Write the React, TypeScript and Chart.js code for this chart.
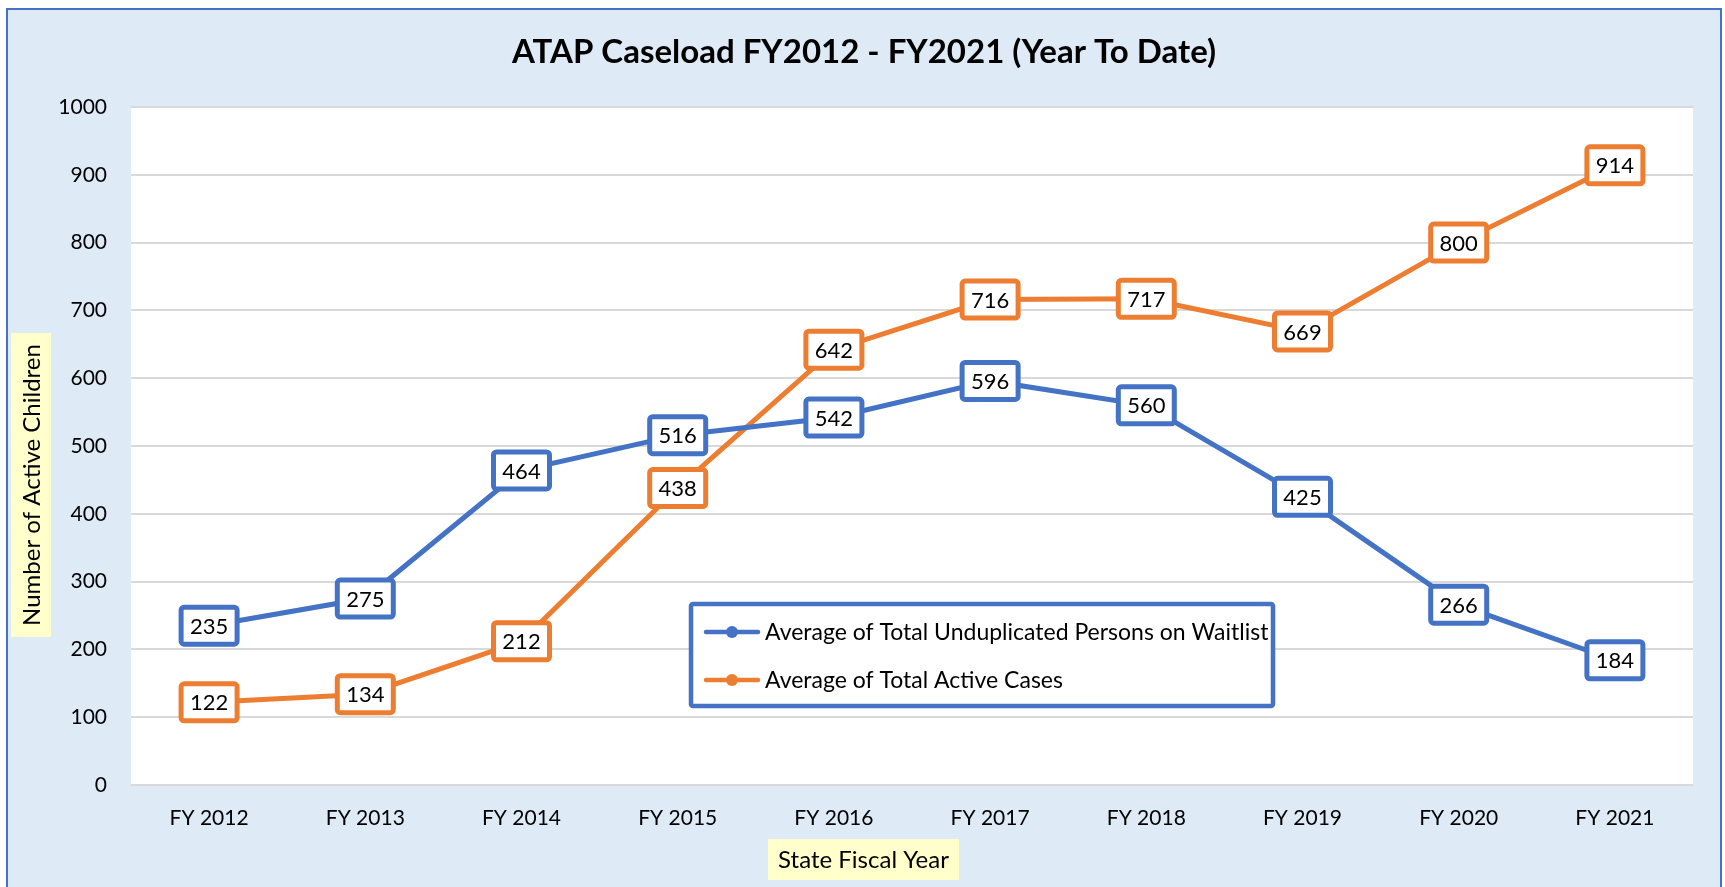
import React, { useEffect, useRef } from "react";
import { Chart, registerables } from "chart.js";

Chart.register(...registerables);

const categories = ["FY 2012", "FY 2013", "FY 2014", "FY 2015", "FY 2016", "FY 2017", "FY 2018", "FY 2019", "FY 2020", "FY 2021"];
const waitlist = [235, 275, 464, 516, 542, 596, 560, 425, 266, 184];
const activeCases = [122, 134, 212, 438, 642, 716, 717, 669, 800, 914];
const seriesNames = ["Average of Total Unduplicated Persons on Waitlist", "Average of Total Active Cases"];
const titleText = "ATAP Caseload FY2012 - FY2021 (Year To Date)";
const yTitle = "Number of Active Children";
const xTitle = "State Fiscal Year";

const BLUE = "#4472C4";
const ORANGE = "#ED7D31";
const FONT = "Lato, 'Open Sans', sans-serif";

function roundRect(ctx: CanvasRenderingContext2D, x: number, y: number, w: number, h: number, r: number) {
  ctx.beginPath();
  ctx.moveTo(x + r, y);
  ctx.lineTo(x + w - r, y);
  ctx.arcTo(x + w, y, x + w, y + r, r);
  ctx.lineTo(x + w, y + h - r);
  ctx.arcTo(x + w, y + h, x + w - r, y + h, r);
  ctx.lineTo(x + r, y + h);
  ctx.arcTo(x, y + h, x, y + h - r, r);
  ctx.lineTo(x, y + r);
  ctx.arcTo(x, y, x + r, y, r);
  ctx.closePath();
}

const customPlugin = {
  id: "customDecor",
  beforeDraw(chart: any) {
    const { ctx, chartArea: a } = chart;
    ctx.save();
    ctx.fillStyle = "#FFFFFF";
    ctx.fillRect(a.left, a.top, a.right - a.left, a.bottom - a.top);
    ctx.restore();
  },
  afterDatasetsDraw(chart: any) {
    const { ctx } = chart;
    ctx.save();
    chart.data.datasets.forEach((ds: any, i: number) => {
      const meta = chart.getDatasetMeta(i);
      meta.data.forEach((pt: any, j: number) => {
        const text = String(ds.data[j]);
        const bw = 56, bh = 37;
        roundRect(ctx, pt.x - bw / 2, pt.y - bh / 2, bw, bh, 3);
        ctx.fillStyle = "#FFFFFF";
        ctx.fill();
        ctx.lineWidth = 5;
        ctx.strokeStyle = ds.borderColor;
        ctx.stroke();
        ctx.fillStyle = "#000000";
        ctx.font = `22px ${FONT}`;
        ctx.textAlign = "center";
        ctx.textBaseline = "middle";
        ctx.fillText(text, pt.x, pt.y + 1);
      });
    });
    ctx.restore();
  },
  afterDraw(chart: any) {
    const { ctx } = chart;
    ctx.save();
    // Title
    ctx.fillStyle = "#000000";
    ctx.font = `bold 33px ${FONT}`;
    ctx.textAlign = "center";
    ctx.textBaseline = "middle";
    ctx.fillText(titleText, 864, 52);

    // Y axis title
    ctx.fillStyle = "#FFFFCC";
    ctx.fillRect(11, 333, 40, 304);
    ctx.save();
    ctx.translate(31, 485);
    ctx.rotate(-Math.PI / 2);
    ctx.fillStyle = "#000000";
    ctx.font = `24px ${FONT}`;
    ctx.textAlign = "center";
    ctx.textBaseline = "middle";
    ctx.fillText(yTitle, 0, 1);
    ctx.restore();

    // X axis title
    ctx.fillStyle = "#FFFFCC";
    ctx.fillRect(768, 839, 191, 41);
    ctx.fillStyle = "#000000";
    ctx.font = `24px ${FONT}`;
    ctx.textAlign = "center";
    ctx.textBaseline = "middle";
    ctx.fillText(xTitle, 863.5, 860);

    // Legend
    const lx = 691, ly = 604, lw = 582, lh = 102;
    ctx.fillStyle = "#FFFFFF";
    ctx.fillRect(lx, ly, lw, lh);
    ctx.lineWidth = 4.5;
    ctx.strokeStyle = BLUE;
    roundRect(ctx, lx, ly, lw, lh, 2);
    ctx.stroke();
    const rows = [632, 680];
    chart.data.datasets.forEach((ds: any, i: number) => {
      const y = rows[i];
      ctx.strokeStyle = ds.borderColor;
      ctx.lineWidth = 4.5;
      ctx.lineCap = "round";
      ctx.beginPath();
      ctx.moveTo(706, y);
      ctx.lineTo(758, y);
      ctx.stroke();
      ctx.fillStyle = ds.borderColor;
      ctx.beginPath();
      ctx.arc(732, y, 6, 0, Math.PI * 2);
      ctx.fill();
      ctx.fillStyle = "#000000";
      ctx.font = `23px ${FONT}`;
      ctx.textAlign = "left";
      ctx.textBaseline = "middle";
      ctx.fillText(ds.label, 765, y + 1);
    });
    ctx.restore();
  },
};

export default function App() {
  const canvasRef = useRef<HTMLCanvasElement | null>(null);

  useEffect(() => {
    if (!canvasRef.current) return;
    const chart = new Chart(canvasRef.current, {
      type: "line",
      data: {
        labels: categories,
        datasets: [
          {
            label: seriesNames[0],
            data: waitlist,
            borderColor: BLUE,
            backgroundColor: BLUE,
            borderWidth: 5,
            pointRadius: 5,
            tension: 0,
          },
          {
            label: seriesNames[1],
            data: activeCases,
            borderColor: ORANGE,
            backgroundColor: ORANGE,
            borderWidth: 5,
            pointRadius: 5,
            tension: 0,
          },
        ],
      },
      options: {
        responsive: false,
        animation: false,
        devicePixelRatio: 1,
        layout: { padding: { top: 107, right: 32, left: 0, bottom: 0 } },
        plugins: {
          legend: { display: false },
          title: { display: false },
          tooltip: { enabled: false },
        },
        scales: {
          x: {
            offset: true,
            grid: { display: false, drawTicks: false },
            border: { display: false },
            ticks: { color: "#000000", font: { family: FONT, size: 21 }, padding: 21, maxRotation: 0 },
            afterFit: (scale: any) => {
              scale.height = 102;
            },
          },
          y: {
            min: 0,
            max: 1000,
            ticks: {
              stepSize: 100,
              color: "#000000",
              font: { family: FONT, size: 21 },
              padding: 24,
              callback: (v: any) => String(v),
            },
            grid: { color: "#D9D9D9", lineWidth: 2, drawTicks: false },
            border: { display: false },
            afterFit: (scale: any) => {
              scale.width = 131;
            },
          },
        },
      },
      plugins: [customPlugin],
    });
    return () => chart.destroy();
  }, []);

  return (
    <div style={{ position: "fixed", left: 0, top: 0, width: 1725, height: 887, background: "#FFFFFF", overflow: "hidden" }}>
      <div
        style={{
          position: "absolute",
          left: 6,
          top: 8,
          width: 1712,
          height: 900,
          background: "#DEEAF6",
          border: "2.5px solid #4472C4",
        }}
      />
      <canvas ref={canvasRef} width={1725} height={887} style={{ position: "absolute", left: 0, top: 0 }} />
    </div>
  );
}
